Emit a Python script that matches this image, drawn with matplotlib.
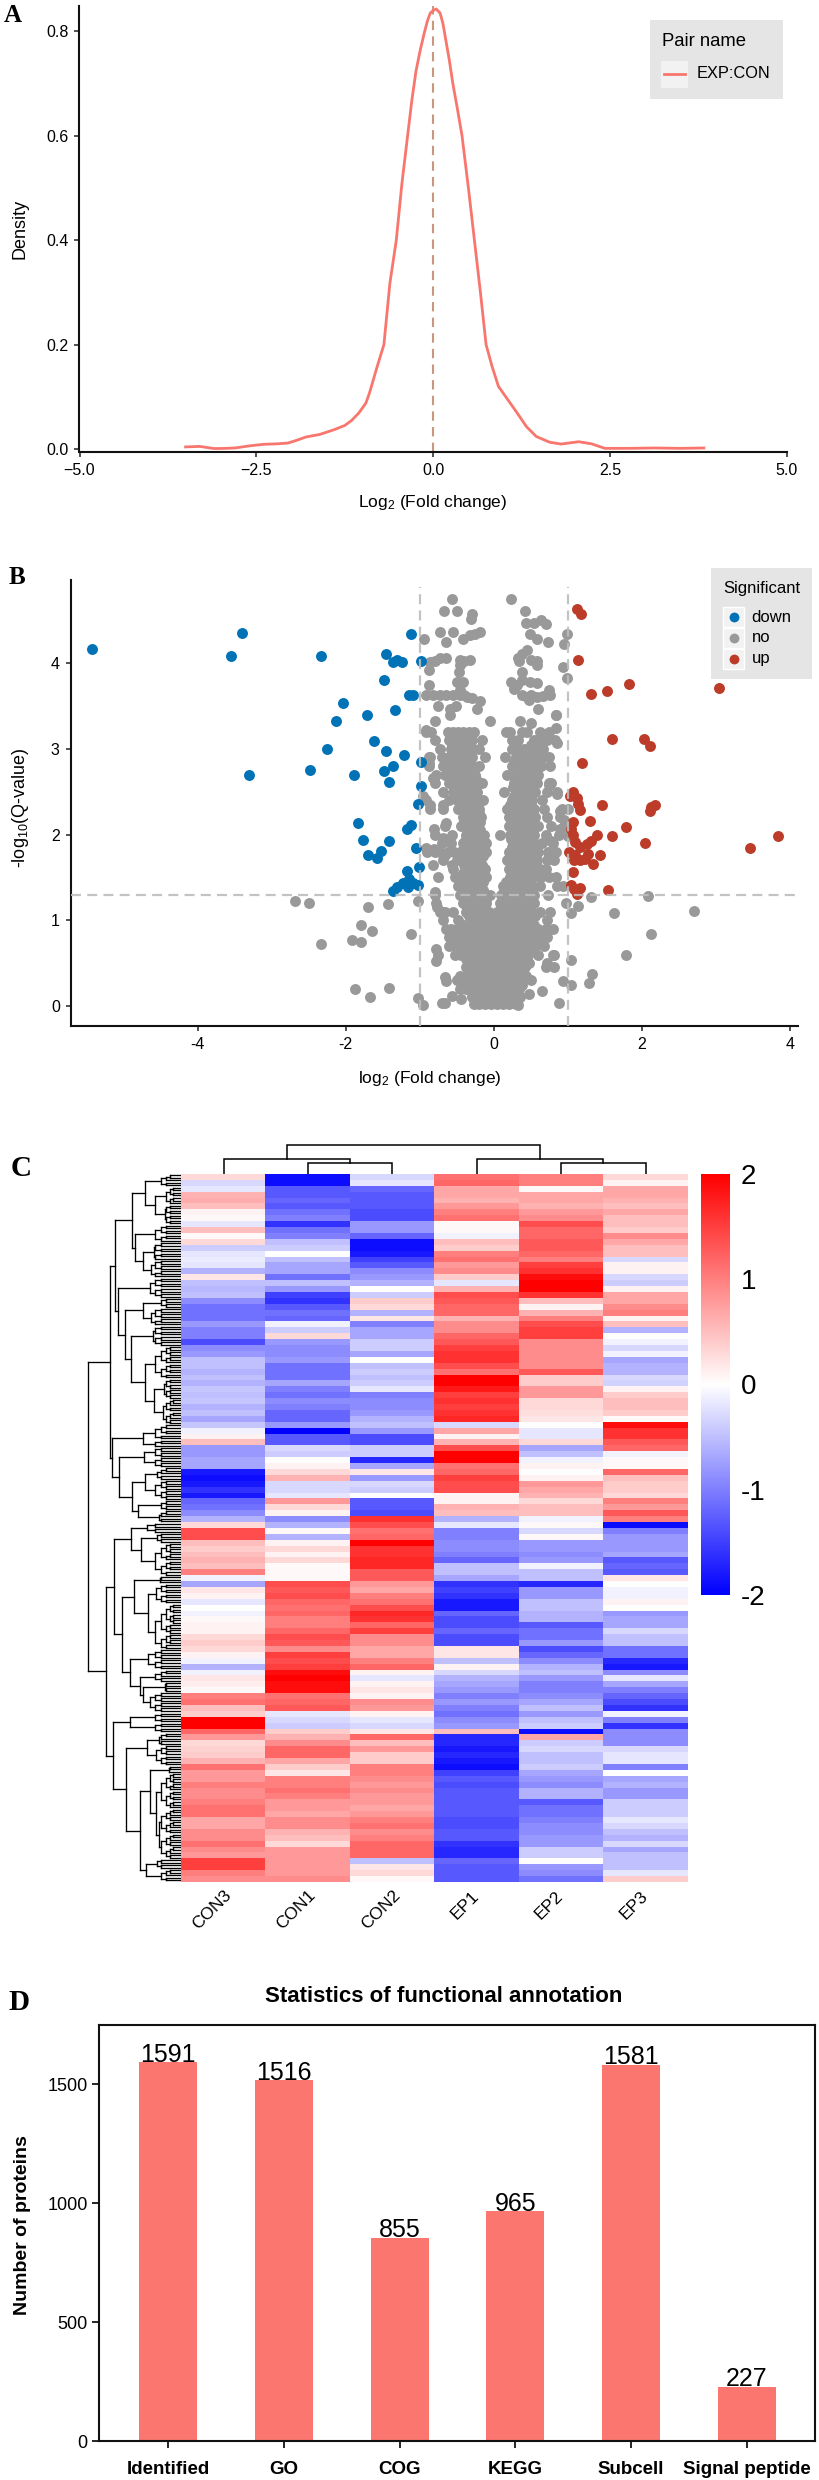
import math
import numpy as np
import matplotlib
matplotlib.use('Agg')
import matplotlib.pyplot as plt
from matplotlib.colors import LinearSegmentedColormap
from matplotlib.patches import Rectangle
from matplotlib.transforms import ScaledTranslation

plt.rcParams['font.family'] = ['Liberation Sans', 'DejaVu Sans']
plt.rcParams['mathtext.default'] = 'regular'

W, H = 820, 2480

# ---------- Panel A ----------
density_x = [-3.5,-3.3,-3.1,-3.0,-2.8,-2.6,-2.4,-2.2,-2.05,-1.9,-1.8,-1.6,-1.4,-1.25,-1.15,-1.05,-0.95,-0.9,-0.79,-0.695,
             -0.61,-0.52,-0.44,-0.36,-0.30,-0.24,-0.18,-0.126,-0.08,-0.04,0.0,0.045,0.1,0.14,0.185,0.23,0.28,0.34,0.41,0.5,0.585,0.67,0.75,0.835,0.925,1.06,1.19,
             1.32,1.46,1.65,1.81,2.06,2.24,2.43,2.76,3.13,3.5,3.83]
density_y = [0.004,0.005,0.001,0.001,0.002,0.006,0.009,0.010,0.0115,0.018,0.023,0.028,0.037,0.045,0.055,0.069,0.088,0.107,0.158,0.20,
             0.318,0.40,0.509,0.60,0.668,0.725,0.765,0.796,0.82,0.835,0.84,0.843,0.835,0.815,0.78,0.745,0.70,0.655,0.60,0.50,0.40,0.30,0.20,0.158,0.12,0.094,0.069,
             0.043,0.024,0.013,0.0095,0.014,0.01,0.0013,0.0013,0.002,0.0013,0.002]

# ---------- Panel B ----------
down_x = [-5.43,-3.40,-3.55,-2.33,-1.12,-1.46,-1.31,-1.36,-1.24,-0.98,-1.48,-1.14,-1.09,-2.04,-1.72,-1.34,-2.13,-1.62,-2.25,-1.46,
          -1.22,-0.98,-1.36,-1.49,-2.49,-1.89,-3.31,-1.41,-0.98,-1.02,-1.83,-1.12,-1.17,-1.77,-1.41,-1.05,-1.70,-1.53,-1.58,-1.01,
          -1.17,-1.14,-1.23,-1.09,-1.02,-1.31,-1.36,-1.16]
down_y = [4.17,4.35,4.08,4.08,4.34,4.11,4.04,4.01,4.01,4.02,3.80,3.63,3.63,3.53,3.39,3.45,3.32,3.09,3.00,2.98,
          2.93,2.85,2.80,2.74,2.75,2.70,2.70,2.61,2.57,2.36,2.14,2.11,2.07,1.94,1.93,1.84,1.76,1.81,1.73,1.62,
          1.57,1.48,1.43,1.44,1.41,1.39,1.34,1.39]
up_x = [1.12,1.18,1.14,1.83,1.53,1.31,3.05,1.60,2.03,2.11,1.19,1.07,1.03,1.12,1.14,1.17,1.46,2.13,2.18,2.11,
        1.07,1.30,1.05,1.79,1.39,1.60,1.07,1.10,1.16,1.31,1.26,2.04,3.84,3.47,1.02,1.10,1.09,1.16,1.28,1.23,
        1.44,1.34,1.07,1.05,1.17,1.09,1.13,1.55]
up_y = [4.63,4.57,4.04,3.76,3.67,3.64,3.71,3.12,3.11,3.03,2.84,2.50,2.45,2.43,2.36,2.29,2.34,2.32,2.34,2.27,
        2.15,2.16,2.07,2.09,2.00,1.98,1.99,1.91,1.86,1.92,1.89,1.90,1.98,1.84,1.80,1.76,1.70,1.70,1.77,1.72,
        1.76,1.66,1.56,1.41,1.38,1.36,1.31,1.35]
no_sparse_x = [-0.57,0.23,-0.67,-0.50,0.42,-0.29,-0.31,0.44,0.54,0.64,0.70,-0.73,-0.55,-0.32,-0.25,-0.19,0.49,0.58,0.73,0.99,
               -0.94,-0.64,-0.42,0.95,0.45,0.38,0.33,-0.64,-0.73,-0.79,-0.86,-0.46,-0.40,-0.32,0.34,0.51,0.59,0.59,0.94,-0.88,
               -0.47,-0.45,0.38,0.99,-0.50,-0.42,0.23,0.31,0.38,0.49,0.58,-0.88,0.27,0.74,-0.91,-0.82,-0.73,-0.64,-0.55,-0.46,
               -0.40,-0.45,-0.30,-0.19,-0.36,0.38,0.45,0.51,0.58,0.67,0.76,0.47,0.60,-0.75,-0.51,-0.59,-0.22,-0.59,-0.05,0.84,
               0.36,0.51,-0.80,0.84,
               -2.68,-2.50,-1.70,-1.43,-1.02,-1.80,-1.64,-2.33,-1.92,-1.80,-1.12,-1.88,-1.67,-1.41,-1.02,-0.96,-0.66,
               -0.78,-0.78,-0.66,-0.64,-0.56,-0.44,-0.70,-0.80,-0.77,-0.68,
               1.63,2.71,2.08,2.13,1.79,1.31,1.14,1.05,1.05,1.33,1.29,1.05,0.93,0.88,0.65,0.33,0.47,0.71,0.82,0.82,
               0.84,0.86,0.75,0.86,0.89,1.00,0.95,0.89,1.00,0.78,
               -0.91,-0.88,-0.88,-0.82,-0.95,-0.86,-0.68,-0.65,-0.81,-0.69,-0.91,-0.81,-0.66,-0.82,-0.75,-0.56]
no_sparse_y = [4.75,4.75,4.61,4.61,4.61,4.57,4.52,4.47,4.47,4.50,4.46,4.36,4.36,4.33,4.34,4.36,4.34,4.28,4.25,4.34,
               4.28,4.25,4.28,4.22,4.15,4.11,4.06,4.06,4.06,4.03,4.01,4.04,4.03,4.04,4.03,4.04,4.03,3.98,3.96,3.92,
               3.90,3.98,3.90,3.83,3.78,3.78,3.78,3.75,3.80,3.78,3.77,3.75,3.70,3.69,3.63,3.63,3.63,3.63,3.63,3.63,
               3.63,3.69,3.59,3.56,3.61,3.63,3.61,3.63,3.61,3.62,3.63,3.57,3.47,3.50,3.50,3.47,3.47,3.40,3.32,3.40,
               3.33,3.30,3.33,3.24,
               1.23,1.20,1.15,1.19,1.22,0.94,0.88,0.72,0.77,0.75,0.84,0.20,0.11,0.21,0.09,0.01,0.03,
               0.66,0.52,0.34,0.29,0.12,0.08,0.04,1.33,1.15,1.10,
               1.08,1.11,1.28,0.84,0.59,1.27,1.17,1.09,0.54,0.37,0.27,0.24,0.29,0.04,0.17,0.01,0.14,0.45,0.45,0.59,
               3.39,3.07,2.58,2.47,2.27,2.30,2.17,2.07,1.98,1.93,
               3.22,2.91,2.83,2.66,2.45,2.34,2.34,2.13,2.06,1.96,1.84,1.83,1.76,1.65,1.50,1.64]
# dense cloud: x readings grouped by the -log10(Q) level they were read at
no_dense = {
    3.2: [-0.92,-0.85,-0.62,-0.55,-0.48,-0.41,-0.33,-0.27,0.17,0.22,0.38,0.45,0.63,0.74],
    3.1: [-0.80,-0.60,-0.53,-0.46,-0.39,-0.30,-0.16,0.25,0.33,0.55,0.62,0.72,0.83],
    3.05: [-0.56,-0.49,-0.42,-0.35,0.30,0.50,0.60],
    3.0: [-0.72,-0.58,-0.50,-0.43,-0.36,-0.28,-0.20,0.25,0.30,0.41,0.47,0.55,0.66],
    2.95: [-0.55,-0.47,-0.40,-0.33,0.33,0.44,0.52,0.62],
    2.9: [-0.86,-0.70,-0.60,-0.52,-0.45,-0.38,-0.30,-0.12,0.15,0.30,0.36,0.42,0.50,0.58,0.68,0.75],
    2.85: [-0.64,-0.56,-0.48,-0.40,-0.32,0.28,0.36,0.44,0.52,0.60],
    2.8: [-0.88,-0.68,-0.60,-0.52,-0.44,-0.36,-0.28,-0.20,0.25,0.32,0.40,0.47,0.55,0.64,0.76],
    2.75: [-0.60,-0.53,-0.46,-0.38,-0.30,0.33,0.40,0.48,0.56],
    2.7: [-0.78,-0.66,-0.57,-0.50,-0.42,-0.35,-0.26,0.18,0.30,0.36,0.44,0.52,0.60],
    2.65: [-0.55,-0.46,-0.39,-0.32,-0.24,0.30,0.38,0.46,0.54],
    2.6: [-0.80,-0.60,-0.50,-0.42,-0.36,-0.28,-0.20,-0.16,0.27,0.34,0.42,0.50,0.58,0.74,0.78],
    2.55: [-0.50,-0.43,-0.34,-0.26,0.26,0.34,0.42,0.50],
    2.5: [-0.68,-0.55,-0.47,-0.38,-0.30,-0.22,0.14,0.30,0.38,0.46,0.56,0.72,0.85],
    2.45: [-0.46,-0.38,-0.32,-0.24,0.27,0.34,0.41,0.49],
    2.4: [-0.92,-0.60,-0.50,-0.42,-0.36,-0.28,-0.20,-0.15,0.25,0.30,0.37,0.45,0.52,0.65],
    2.35: [-0.44,-0.37,-0.30,-0.23,0.22,0.28,0.36,0.44,0.50],
    2.3: [-0.86,-0.68,-0.48,-0.40,-0.34,-0.27,-0.20,0.18,0.25,0.32,0.40,0.47,0.55,0.68,0.92],
    2.25: [-0.39,-0.33,-0.27,-0.20,0.23,0.30,0.37,0.44,0.51],
    2.2: [-0.42,-0.36,-0.30,-0.24,-0.17,0.20,0.26,0.33,0.40,0.47,0.56,0.72,0.90],
    2.15: [-0.40,-0.33,-0.27,-0.19,0.24,0.31,0.38,0.46,0.53],
    2.1: [-0.66,-0.44,-0.37,-0.30,-0.22,0.20,0.28,0.35,0.42,0.50,0.60,0.78,0.96],
    2.05: [-0.34,-0.27,-0.19,0.26,0.33,0.40,0.48],
    2.0: [-0.80,-0.56,-0.38,-0.30,-0.24,-0.13,0.08,0.22,0.30,0.37,0.45,0.55,0.70,0.88],
    1.95: [-0.38,-0.30,-0.22,-0.14,0.23,0.30,0.37,0.44,0.51],
    1.9: [-0.70,-0.58,-0.42,-0.34,-0.26,-0.18,-0.10,0.26,0.33,0.40,0.47,0.55,0.65,0.80],
    1.85: [-0.40,-0.32,-0.24,-0.15,0.24,0.31,0.38,0.46,0.55],
    1.8: [-0.90,-0.80,-0.72,-0.62,-0.54,-0.45,-0.36,-0.28,-0.20,-0.10,0.20,0.28,0.35,0.42,0.50,0.60,0.73,0.84],
    1.75: [-0.46,-0.38,-0.30,-0.22,-0.14,0.22,0.30,0.37,0.44,0.53],
    1.7: [-0.68,-0.50,-0.42,-0.33,-0.26,-0.18,0.18,0.26,0.33,0.40,0.48,0.58,0.72,0.82],
    1.65: [-0.40,-0.32,-0.24,-0.16,0.23,0.30,0.40,0.48,0.57],
    1.6: [-0.55,-0.36,-0.28,-0.22,-0.12,0.20,0.30,0.36,0.44,0.52,0.62,0.70],
    1.55: [-0.42,-0.32,-0.25,-0.16,0.26,0.33,0.41,0.48],
    1.5: [-0.53,-0.45,-0.36,-0.29,-0.21,-0.10,0.22,0.30,0.38,0.45,0.55,0.64,0.74,0.84],
    1.45: [-0.40,-0.30,-0.22,-0.14,0.16,0.24,0.32,0.40,0.48],
    1.4: [-0.48,-0.42,-0.34,-0.26,-0.18,0.12,0.20,0.28,0.36,0.44,0.52,0.62,0.86,0.94],
    1.35: [-0.38,-0.30,-0.22,-0.14,0.14,0.21,0.29,0.37,0.45,0.52],
    1.3: [-0.80,-0.45,-0.38,-0.30,-0.22,-0.13,-0.05,0.10,0.17,0.25,0.33,0.40,0.48,0.55,0.73],
    1.25: [-0.40,-0.34,-0.26,-0.18,-0.10,0.12,0.20,0.28,0.35,0.43,0.50],
    1.2: [-0.78,-0.42,-0.34,-0.26,-0.18,-0.10,0.08,0.14,0.22,0.30,0.38,0.46,0.55,0.98],
    1.15: [-0.36,-0.28,-0.20,-0.12,0.10,0.17,0.25,0.33,0.41,0.49],
    1.1: [-0.72,-0.66,-0.55,-0.38,-0.30,-0.22,-0.14,-0.06,0.05,0.13,0.20,0.28,0.36,0.44,0.52,0.62,0.76],
    1.05: [-0.34,-0.26,-0.18,-0.10,0.09,0.16,0.24,0.32,0.40,0.48,0.56],
    1.0: [-0.68,-0.48,-0.30,-0.22,-0.13,-0.05,0.05,0.12,0.20,0.28,0.36,0.44,0.50,0.72],
    0.95: [-0.40,-0.30,-0.22,-0.14,-0.06,0.08,0.14,0.22,0.30,0.38,0.46,0.55],
    0.9: [-0.65,-0.58,-0.50,-0.35,-0.27,-0.18,-0.10,0.03,0.10,0.18,0.26,0.34,0.42,0.50,0.60,0.70,0.80],
    0.85: [-0.56,-0.48,-0.40,-0.32,-0.24,-0.16,-0.08,0.00,0.08,0.16,0.24,0.32,0.40,0.48,0.58],
    0.8: [-0.60,-0.52,-0.44,-0.36,-0.28,-0.20,-0.12,-0.04,0.04,0.12,0.20,0.28,0.36,0.44,0.54,0.62,0.72],
    0.75: [-0.56,-0.46,-0.38,-0.30,-0.22,-0.14,-0.06,0.02,0.10,0.18,0.26,0.34,0.42,0.50,0.60],
    0.7: [-0.60,-0.50,-0.42,-0.34,-0.26,-0.18,-0.10,-0.02,0.06,0.14,0.22,0.30,0.38,0.46,0.56,0.68],
    0.65: [-0.48,-0.40,-0.31,-0.23,-0.15,-0.07,0.01,0.09,0.17,0.25,0.33,0.42,0.52],
    0.6: [-0.75,-0.52,-0.44,-0.35,-0.27,-0.19,-0.11,-0.03,0.05,0.13,0.21,0.29,0.37,0.46,0.60,0.80],
    0.55: [-0.38,-0.30,-0.22,-0.14,-0.06,0.02,0.10,0.18,0.26,0.34,0.42],
    0.5: [-0.34,-0.26,-0.18,-0.10,-0.02,0.06,0.14,0.22,0.30,0.38,0.48,0.72],
    0.45: [-0.38,-0.30,-0.22,-0.14,-0.06,0.02,0.10,0.18,0.26,0.34,0.42],
    0.4: [-0.34,-0.26,-0.18,-0.10,-0.02,0.06,0.14,0.22,0.30,0.38],
    0.35: [-0.46,-0.36,-0.28,-0.20,-0.12,-0.04,0.04,0.12,0.20,0.28,0.36,0.44],
    0.3: [-0.50,-0.42,-0.32,-0.24,-0.16,-0.08,0.00,0.08,0.16,0.24,0.32,0.40,0.50],
    0.25: [-0.34,-0.26,-0.18,-0.10,-0.02,0.06,0.14,0.22,0.30,0.38],
    0.2: [-0.46,-0.38,-0.30,-0.22,-0.14,-0.06,0.02,0.10,0.18,0.26,0.34],
    0.15: [-0.30,-0.26,-0.18,-0.10,-0.02,0.06,0.14,0.22,0.30],
    0.1: [-0.30,-0.22,-0.14,-0.06,0.02,0.10,0.18,0.26,0.36],
    0.06: [-0.24,-0.16,-0.08,0.00,0.08,0.16,0.24,0.32],
    0.02: [-0.27,-0.20,-0.12,-0.04,0.04,0.12,0.20,0.30],
}

# ---------- Panel C ----------
samples = ['CON3', 'CON1', 'CON2', 'EP1', 'EP2', 'EP3']
CON3 = [.3,-.3,-.2,.6,.65,.5,.1,.05,-.2,.5,
        .05,.3,-.4,-.2,-.15,-.2,-.6,.2,-.5,-.55,
        -.5,-.9,-1.1,-1.1,-1.1,-.8,-1,-1,-1.4,-.9,
        -.8,-.5,-.5,-.6,-.5,-.6,-.45,-.5,-.45,-.6,
        -.5,-.7,-.45,-.1,.1,.5,-.8,-.8,-.7,-.7,
        -1.8,-1.9,-1.8,-1.6,-1.8,-1.2,-1.1,-.9,-.6,.3,
        1.4,1.4,.5,.4,.5,.6,.5,1.0,-.1,-.7,
        .2,.1,-.2,0,-.1,.05,.1,.1,.3,.4,
        .3,.1,-.1,-.6,-.1,.2,.15,.05,1.0,1.1,
        .5,.4,2,2,1.2,.8,.3,.35,.4,.6,
        1.1,.8,.8,1,.9,.9,1,1.1,1.1,.7,
        .7,.9,.9,1.1,.9,.8,1.5,1.5,1,.9]
CON1 = [-1.9,-1.9,-1.3,-1.3,-1.2,-1.3,-1.1,-1.0,-1.6,-1.1,
        -1.0,-.5,-.4,0,-.5,-.7,-.7,-1.1,-.5,-.8,
        -1.5,-1.6,-1.3,-1.1,-1.2,-.1,-.4,.3,-.8,-.9,
        -.9,-.8,-1.1,-1.1,-1.1,-.7,-1.0,-1.1,-.9,-1.0,
        -1.2,-1.2,-.8,-2.0,-1.3,-1.3,-.3,-.4,0,.1,
        .3,.6,-.3,-.3,-.2,.8,.3,.1,-.9,-.6,
        .05,-.6,.1,.3,.1,.3,.05,.05,.05,1.4,
        1.3,1.4,1.2,1.1,1.2,1.0,1.0,1.2,1.4,1.3,
        .9,1.5,1.4,1.5,1.9,2.0,1.9,1.9,1.1,1.2,
        1.3,-.2,-.3,-.4,.4,.6,.9,1.2,1.2,.7,
        .4,.2,1.0,1.0,1.1,1.0,.8,.8,.7,.9,
        .9,.6,.5,.3,.8,.8,.8,.8,.8,.9]
CON2 = [-.3,-.2,-1.2,-1.3,-1.3,-1.3,-1.4,-1.4,-.8,-.8,
        -1.2,-1.9,-1.9,-1.8,-1.5,-1.3,-.9,-.8,-.6,0,
        -.4,.4,.3,-.6,.2,-1.0,-.7,-.7,-.4,-.4,
        -.7,0,-.5,-.4,-.5,-.4,-.2,-1,-.9,-.9,
        -.8,-.6,-.5,-.8,-1.4,-1.4,-.4,-.4,-1.7,-.7,
        .2,-.8,-.3,-.4,0,-1.3,-1.3,-1.4,1.6,1.4,
        1.1,1.2,2.0,1.6,1.6,1.7,1.7,1.3,1.3,.8,
        .7,1.0,1.1,1.4,1.7,1.6,1.2,1.5,.9,.9,
        .7,.7,1.0,1.2,.1,-.2,.1,.2,.1,.9,
        .8,.1,-.2,-.3,.2,1.2,.5,.8,.4,.4,
        1.0,1.0,.9,.8,.9,.8,.8,.7,.8,1.0,
        1.1,.9,1.0,1.2,1.2,1.2,-.5,.2,.3,.05]
EP1 = [1.1,1.2,.7,.7,.6,.8,1.0,1.1,.05,.05,
       -.1,.5,.4,1.0,1.1,.8,.9,.4,-.2,.6,
       1.4,1.3,1.2,1.2,.6,.9,.9,1.2,1.3,1.5,
       1.6,1.6,1.4,1.1,2.0,2.0,1.8,1.5,1.6,1.5,
       1.6,1.7,-.3,.7,.1,.6,1.4,2.0,2.0,1.1,
       1.2,1.5,1.4,1.4,.1,.1,.6,.5,-.6,-.2,
       -1,-1,-.9,-.9,-1,-1.2,-.5,-.5,-.7,-1.6,
       -1.5,-1.6,-1.8,-1.8,-1.2,-1.4,-1.4,-1.2,-1.4,-1.4,
       .2,.2,-.5,.1,-.3,-.6,-.7,-.8,-1,-.8,
       -1,-1.1,-.9,-.8,.5,-1.7,-1.7,-1.8,-1.7,-1.8,
       -1.9,-1.5,-1.3,-1.4,-1.3,-1.3,-1.3,-1.3,-1.3,-1.4,
       -1.4,-1.3,-1.3,-1.6,-1.7,-1.7,-1.2,-1.3,-1.3,-1.3]
EP2 = [1,1.0,.05,.7,.7,.6,.8,.9,1.4,1.2,
       1.2,1.3,1.3,1.2,1.0,1.5,1.6,1.9,2.0,2.0,
       1.6,.5,.1,.6,1.0,1.4,1.5,1.5,.9,.9,
       .9,.9,.9,1.3,.4,.4,.8,.8,.3,.3,
       .25,.2,0,-.2,-.2,.3,-.7,-.5,-.1,.1,
       0,.1,.8,.7,.6,.3,.5,.5,-.1,.05,
       -.3,.05,-.8,-.8,-.9,-.8,-.1,-.5,-.5,-1.7,
       -.8,-.8,-.5,-.5,-.6,-.6,-1.3,-1.1,-1.1,-.8,
       -1.4,-1.2,-.9,-.6,-.5,-.8,-1,-1,-.9,-.7,
       -.5,-.8,-.5,-.4,-1.9,.7,-.4,-.3,-.5,-.5,
       -.4,-.7,-.8,-.9,-.6,-.6,-1.3,-1.1,-1.1,-1.0,
       -.9,-.9,-.8,-.8,-.4,-.4,0,-.8,-.9,-1.1]
EP3 = [.3,.1,.7,.7,.6,.5,.7,.5,.5,.4,
       .9,.7,.5,.5,-.3,.1,.1,-.3,-.4,.1,
       .7,.7,.9,1.0,.1,.5,-.6,0,-.1,-.3,
       -.1,-.7,-.6,-.6,-.3,-.35,.1,.4,.5,.5,
       .4,.05,1.9,1.6,1.6,1.3,1.2,-.1,.05,.05,
       1.2,.5,.4,.4,.3,1.0,.8,1.3,1.0,-1.9,
       -1,-.8,-.8,-.8,-.7,-1.3,-1.2,-1.3,.2,0,
       -.1,-.1,.1,0,-.8,-.7,-.7,-.3,-.5,-.5,
       -1.1,-1.1,-1.7,-1.8,-.9,-.2,-.7,-1.0,-1.2,-1.4,
       -1.6,-.1,-1,-1.6,-.9,-.9,-.9,-.3,-.2,-.2,
       -1,0,-.7,-.6,-.8,-.8,-.4,-.4,-.4,-.2,
       -.3,-.5,-.6,-.3,-.7,-.5,-.5,-.5,-.2,.4]
colorbar_ticks = [2, 1, 0, -1, -2]
# dendrograms: (merge height, child, child); a row tip block is (leaf count, height)
TIP_STEPS = [26, 20, 15, 11, 8, 6]
ROW_TREE = (93,
  (71,
    (66,
      (49,
        (36, (5, 20), (26, (7, 15), (8, 16))),
        (46, (7, 26), (38, (7, 27), (7, 30)))),
      (63,
        (8, 31),
        (56,
          (38, (4, 20), (7, 30)),
          (50, (8, 28), (36, (13, 26), (27, (8, 17), (10, 18))))))),
    (69,
      (9, 38),
      (62,
        (8, 37),
        (49, (36, (5, 24), (8, 26)), (43, (4, 20), (5, 22)))))),
  (75,
    (67,
      (50, (4, 34), (40, (4, 24), (13, 26))),
      (59,
        (47, (3, 21), (33, (8, 25), (18, 26))),
        (51, (8, 33), (41, (5, 26), (38, (4, 16), (8, 31)))))),
    (68,
      (8, 51),
      (55,
        (34, (5, 22), (8, 25)),
        (41,
          (31, (3, 12), (25, (14, 20), (20, 22))),
          (35, (4, 24), (5, 20)))))))
COL_TREE = (29, (15, 0, (11.5, 1, 2)), (15, 3, (11.5, 4, 5)))

# ---------- Panel D ----------
annotation_names = ['Identified', 'GO', 'COG', 'KEGG', 'Subcell', 'Signal peptide']
annotation_counts = [1591, 1516, 855, 965, 1581, 227]

# ---------- Colours ----------
SALMON = '#F8766D'
BAR = '#FA766E'
BLUE = '#0072B5'
RED = '#BC3C29'
GREY = '#999999'

fig = plt.figure(figsize=(W / 100, H / 100), dpi=100, facecolor='white')


def box(l, t, r, b, **kw):
    return fig.add_axes([l / W, 1 - b / H, (r - l) / W, (b - t) / H], **kw)


def label_at(axis, text, px, py, a, **kw):
    """Axis label centred at pixel position (px, py)."""
    pos = a.get_position()
    fx = (px / W - pos.x0) / pos.width
    fy = ((1 - py / H) - pos.y0) / pos.height
    if axis == 'x':
        a.set_xlabel(text, va='center', ha='center', **kw)
        a.xaxis.set_label_coords(fx, fy)
    else:
        a.set_ylabel(text, va='center', ha='center', **kw)
        a.yaxis.set_label_coords(fx, fy)


def classic(a, lw=1.5):
    for s in ['top', 'right']:
        a.spines[s].set_visible(False)
    for s in ['left', 'bottom']:
        a.spines[s].set_linewidth(lw)
        a.spines[s].set_color('#111111')
    a.tick_params(length=3.8, width=1.1, labelsize=11.5, pad=4, color='#222222')


# ---------- A ----------
axA = box(79.5, 6, 786.6, 452)
axA.set_xlim(-5, 5)
axA.set_ylim(-0.0057, 0.8487)
axA.axvline(0, color='#C8977E', lw=1.5, ls=(0, (4.5, 3)), zorder=1)
axA.plot(density_x, density_y, color=SALMON, lw=2, zorder=2, solid_joinstyle='round')
axA.set_xticks([-5, -2.5, 0, 2.5, 5])
axA.set_xticklabels(['\u22125.0', '\u22122.5', '0.0', '2.5', '5.0'])
axA.set_yticks([0, 0.2, 0.4, 0.6, 0.8])
axA.set_yticklabels(['0.0', '0.2', '0.4', '0.6', '0.8'])
classic(axA)
label_at('x', 'Log$_2$ (Fold change)', 433, 502, axA, fontsize=12.5)
label_at('y', 'Density', 20, 229, axA, fontsize=13)

# ---------- B ----------
axB = box(70.6, 580, 797.6, 1026)
axB.set_xlim(-5.72, 4.107)
axB.set_ylim(-0.233, 4.97)
dense_y = [y for y, xs in no_dense.items() for _ in xs]
dense_x = [x for xs in no_dense.values() for x in xs]
msize = 62
axB.scatter(no_sparse_x + dense_x, no_sparse_y + dense_y, s=msize, color=GREY, lw=0, zorder=2)
axB.scatter(down_x, down_y, s=msize, color=BLUE, lw=0, zorder=3)
axB.scatter(up_x, up_y, s=msize, color=RED, lw=0, zorder=3)
dash = dict(color='#BDBDBD', lw=1.6, ls=(0, (4.5, 2.8)), zorder=4, alpha=0.9)
axB.axvline(-1, ymax=0.985, **dash)
axB.axvline(1, ymax=0.985, **dash)
axB.axhline(1.3, **dash)
axB.set_xticks([-4, -2, 0, 2, 4])
axB.set_xticklabels(['-4', '-2', '0', '2', '4'])
axB.set_yticks([0, 1, 2, 3, 4])
axB.set_yticklabels(['0', '1', '2', '3', '4'])
classic(axB)
label_at('x', 'log$_2$ (Fold change)', 430, 1078, axB, fontsize=12.5)
label_at('y', '-log$_{10}$(Q-value)', 21, 808, axB, fontsize=13)

# ---------- C ----------
heat = np.array([CON3, CON1, CON2, EP1, EP2, EP3]).T
bwr = LinearSegmentedColormap.from_list('bwr2', ['#0000FF', '#FFFFFF', '#FF0000'], N=256)
axC = box(181.5, 1174, 687.8, 1881.6)
axC.imshow(heat, cmap=bwr, vmin=-2, vmax=2, aspect='auto', interpolation='nearest')
axC.set_yticks([])
axC.set_xticks(range(6))
axC.set_xticklabels(samples, rotation=45, ha='center', va='center', rotation_mode='anchor', fontsize=12.5)
axC.tick_params(axis='x', length=0, pad=20)
for s in axC.spines.values():
    s.set_visible(False)
for i, lab in enumerate(axC.get_xticklabels()):
    dy = 0 if i < 3 else 4
    lab.set_transform(lab.get_transform() + ScaledTranslation(-12 / 100, dy / 100, fig.dpi_scale_trans))

axCb = box(701, 1174, 729.6, 1595)
gradient = np.array(sorted(np.linspace(-2, 2, 256), reverse=True)).reshape(-1, 1)
axCb.imshow(gradient, cmap=bwr, vmin=-2, vmax=2, aspect='auto', extent=[0, 1, -2, 2])
axCb.set_xticks([])
axCb.yaxis.tick_right()
axCb.set_yticks(colorbar_ticks)
axCb.set_yticklabels([str(v) for v in colorbar_ticks], fontsize=20)
axCb.tick_params(axis='y', length=0, pad=8)
for s in axCb.spines.values():
    s.set_visible(False)

# row dendrogram
axR = box(60, 1174, 181.5, 1881.6)
axR.axis('off')
segments = []
leaf_counter = [0]


def tip(n, h):
    if n == 1:
        y = leaf_counter[0] + 0.5
        leaf_counter[0] += 1
        return y, 0
    a = n - n // 2 if n % 3 else n - n // 3
    lower = [s for s in TIP_STEPS if s < h]
    hc = lower[0] if lower else h * 0.7
    return join(h, tip(a, hc), tip(n - a, hc))


def join(h, ca, cb):
    ya, ha = ca
    yb, hb = cb
    segments.append(([ha, h], [ya, ya]))
    segments.append(([hb, h], [yb, yb]))
    segments.append(([h, h], [ya, yb]))
    return (ya + yb) / 2, h


def walk(node):
    if len(node) == 2:
        return tip(node[0], node[1])
    return join(node[0], walk(node[1]), walk(node[2]))


walk(ROW_TREE)
for xs, ys in segments:
    axR.plot(xs, ys, color='black', lw=0.95, solid_capstyle='projecting')
axR.set_xlim(121.5, 0)
axR.set_ylim(leaf_counter[0], 0)

# column dendrogram
axT = box(181.5, 1143, 687.8, 1174)
axT.axis('off')


def walk_col(node):
    if not isinstance(node, tuple):
        return node, 0
    h = node[0]
    xa, ha = walk_col(node[1])
    xb, hb = walk_col(node[2])
    axT.plot([xa, xa, xb, xb], [ha, h, h, hb], color='black', lw=1.1, solid_joinstyle='miter')
    return (xa + xb) / 2, h


walk_col(COL_TREE)
axT.set_xlim(-0.5, 5.5)
axT.set_ylim(0, 31)

# ---------- D ----------
axD = box(98.8, 2025, 815, 2441)
xpos = np.arange(len(annotation_names))
axD.bar(xpos, annotation_counts, width=0.5, color=BAR, lw=0)
for x, v in zip(xpos, annotation_counts):
    axD.annotate(str(v), (x, v), xytext=(0, 5.5), textcoords='offset points',
                 ha='center', va='center', fontsize=18, color='black')
axD.set_xlim(-0.6, 5.59)
axD.set_ylim(0, 1748)
axD.set_xticks(xpos)
axD.set_xticklabels(annotation_names, fontsize=13.5, fontweight='bold')
axD.set_yticks([0, 500, 1000, 1500])
axD.set_yticklabels(['0', '500', '1000', '1500'], fontsize=13)
axD.tick_params(axis='x', length=5, width=1.2, pad=9.5)
axD.tick_params(axis='y', length=5, width=1.2, pad=3)
for s in axD.spines.values():
    s.set_linewidth(1.5)
    s.set_color('#111111')
axD.set_title('Statistics of functional annotation', fontsize=16, fontweight='bold', x=(443.5 - 98.8) / (815 - 98.8),
              y=(2441 - 1997) / 416, va='center', pad=0)
label_at('y', 'Number of proteins', 22.5, 2225, axD, fontsize=14, fontweight='bold')

# ---------- Overlay: legends and panel letters ----------
ov = fig.add_axes([0, 0, 1, 1], facecolor='none', zorder=10)
ov.set_xlim(0, W)
ov.set_ylim(H, 0)
ov.axis('off')

# legend A
ov.add_patch(Rectangle((650, 20), 133, 79, fc='#E5E5E5', ec='none'))
ov.add_patch(Rectangle((661, 61), 27, 27, fc='#F2F2F2', ec='none'))
ov.plot([664, 685], [74, 74], color=SALMON, lw=2)
ov.text(662, 42, 'Pair name', fontsize=13.3, va='center', ha='left')
ov.text(697, 74, 'EXP:CON', fontsize=11.8, va='center', ha='left')

# legend B
ov.add_patch(Rectangle((711, 567.5), 101, 111.5, fc='#E5E5E5', ec='none'))
ov.text(723, 589, 'Significant', fontsize=12, va='center', ha='left')
for yc, c, t in zip([617, 638, 659], [BLUE, GREY, RED], ['down', 'no', 'up']):
    ov.add_patch(Rectangle((723, yc - 10), 21, 20, fc='#F2F2F2', ec='white', lw=1))
    ov.scatter([734], [yc], s=50, color=c, lw=0)
    ov.text(751.5, yc, t, fontsize=12, va='center', ha='left')

# panel letters
serif = ['Liberation Serif', 'DejaVu Serif']
for t, x, y, fs in [('A', 4, 15, 18), ('B', 9, 578, 18), ('C', 11, 1169, 21), ('D', 8, 2003, 21)]:
    ov.text(x, y, t, family=serif, fontweight='bold', fontsize=fs, va='center', ha='left')

fig.savefig('out.png', dpi=100, facecolor='white')
